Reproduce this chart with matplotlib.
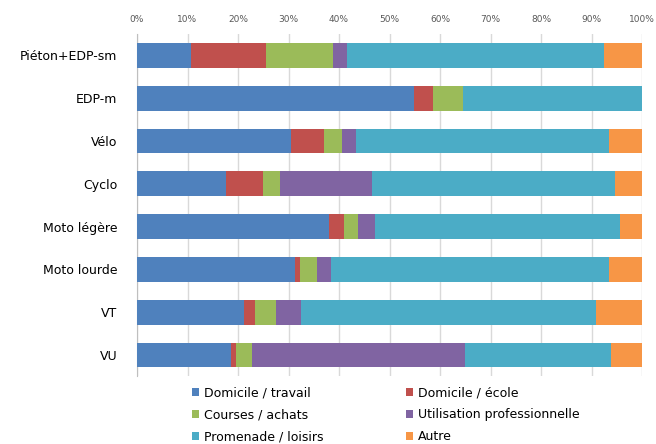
import numpy as np
import matplotlib.pyplot as plt
from matplotlib.patches import Patch

categories = ["Piéton+EDP-sm", "EDP-m", "Vélo", "Cyclo",
              "Moto légère", "Moto lourde", "VT", "VU"]

series_names = ["Domicile / travail", "Domicile / école", "Courses / achats",
                "Utilisation professionnelle", "Promenade / loisirs", "Autre"]

domicile_travail = [10.6, 54.9, 30.5, 17.6, 38.1, 31.2, 21.1, 18.6]
domicile_ecole = [14.9, 3.8, 6.6, 7.3, 2.8, 1.0, 2.3, 1.0]
courses_achats = [13.3, 5.9, 3.4, 3.5, 2.8, 3.4, 4.2, 3.2]
utilisation_pro = [2.8, 0.0, 2.8, 18.1, 3.5, 2.9, 4.9, 42.1]
promenade_loisirs = [50.9, 35.4, 50.2, 48.2, 48.4, 55.0, 58.3, 29.0]
autre = [7.5, 0.0, 6.5, 5.3, 4.4, 6.5, 9.2, 6.1]

colors = ["#4f81bd", "#c0504d", "#9bbb59", "#8064a2", "#4bacc6", "#f79646"]

series = [domicile_travail, domicile_ecole, courses_achats,
          utilisation_pro, promenade_loisirs, autre]

fig = plt.figure(figsize=(6.56, 4.44), dpi=100)
ax = fig.add_axes([137 / 656, 1 - 376.4 / 444, 505 / 656, (376.4 - 34) / 444])

y = np.arange(len(categories))
left = np.zeros(len(categories))
for values, color in zip(series, colors):
    values = np.array(values)
    ax.barh(y, values, left=left, height=0.58, color=color, zorder=3)
    left += values

ax.set_xlim(0, 100)
ax.set_ylim(len(categories) - 0.5, -0.5)
ax.set_xticks(np.arange(0, 101, 10))
ax.set_xticklabels([f"{t}%" for t in range(0, 101, 10)])
ax.xaxis.tick_top()
ax.tick_params(axis="x", length=0, labelsize=6.5, labelcolor="#595959", pad=7)
ax.set_yticks(y)
ax.set_yticklabels(categories)
ax.tick_params(axis="y", length=0, labelsize=9, pad=14)
ax.grid(axis="x", color="#d9d9d9", linewidth=1, zorder=0)

for side in ["top", "right", "bottom"]:
    ax.spines[side].set_visible(False)
ax.spines["left"].set_color("#bfbfbf")

# legend is read row by row in the reference, matplotlib fills by column
order = [0, 2, 4, 1, 3, 5]
handles = [Patch(facecolor=colors[i], edgecolor="none") for i in order]
labels = [series_names[i] for i in order]
fig.legend(handles, labels, loc="lower left", bbox_to_anchor=(187 / 656, -0.01),
           ncol=2, frameon=False, fontsize=9, handlelength=0.6, handleheight=0.6,
           handletextpad=0.35, columnspacing=6.6, labelspacing=0.72,
           borderaxespad=0.0)

fig.savefig("out.png", dpi=100)
